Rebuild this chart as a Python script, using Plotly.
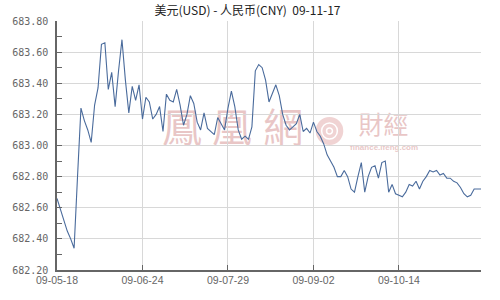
import plotly.graph_objects as go

title_text = "美元(USD) - 人民币(CNY)  09-11-17"

rates = [
    682.66, 682.59, 682.52, 682.45, 682.40, 682.34, 682.80, 683.24, 683.16, 683.10,
    683.02, 683.26, 683.37, 683.65, 683.66, 683.36, 683.47, 683.25, 683.48, 683.68,
    683.42, 683.21, 683.38, 683.29, 683.39, 683.17, 683.31, 683.28, 683.17, 683.20,
    683.25, 683.09, 683.33, 683.29, 683.28, 683.36, 683.26, 683.13, 683.20, 683.32,
    683.27, 683.15, 683.10, 683.21, 683.11, 683.09, 683.07, 683.18, 683.14, 683.10,
    683.24, 683.35, 683.25, 683.10, 683.04, 683.06, 683.04, 683.12, 683.48, 683.52,
    683.50, 683.42, 683.28, 683.33, 683.39, 683.32, 683.20, 683.13, 683.10, 683.12,
    683.14, 683.20, 683.09, 683.11, 683.08, 683.15, 683.09, 683.06, 683.01, 682.94,
    682.90, 682.86, 682.80, 682.80, 682.84, 682.80, 682.72, 682.70, 682.80, 682.89,
    682.70, 682.80, 682.86, 682.87, 682.79, 682.89, 682.90, 682.70, 682.75, 682.69,
    682.68, 682.67, 682.70, 682.75, 682.74, 682.77, 682.72, 682.77, 682.80, 682.84,
    682.83, 682.84, 682.81, 682.82, 682.79, 682.79, 682.77, 682.76, 682.73, 682.69,
    682.67, 682.68, 682.72, 682.72, 682.72,
]

tick_labels = ["09-05-18", "09-06-24", "09-07-29", "09-09-02", "09-10-14"]
tick_index = [0, 25, 50, 75, 100]

watermark_big = ["鳳", "凰", "網"]
watermark_small = "財經"
watermark_url = "finance.ifeng.com"

x = list(range(len(rates)))

fig = go.Figure()
fig.add_trace(go.Scatter(
    x=x, y=rates, mode="lines",
    line=dict(color="#4a6b9c", width=1.1),
    hoverinfo="skip", showlegend=False,
))

# plot area in pixels: left 50, right 481, top 21, bottom 270
L, R, T, B = 50, 481, 21, 270
def px(xp):
    return (xp - L) / (R - L)
def py(yp):
    return (B - yp) / (B - T)

pink = "rgba(226,180,180,0.75)"
shapes = []
centers = [177, 228, 280]
for ch, cx in zip(watermark_big, centers):
    shapes.append(dict(
        type="rect", xref="paper", yref="paper", layer="below",
        x0=px(cx - 25), x1=px(cx + 25), y0=py(152), y1=py(110),
        line=dict(width=0), fillcolor="rgba(0,0,0,0)",
        label=dict(text=ch, textposition="middle center",
                   font=dict(family="Noto Sans CJK TC", size=40, color=pink)),
    ))
shapes.append(dict(
    type="rect", xref="paper", yref="paper", layer="below",
    x0=px(352), x1=px(412), y0=py(142), y1=py(112),
    line=dict(width=0), fillcolor="rgba(0,0,0,0)",
    label=dict(text=watermark_small, textposition="middle center",
               font=dict(family="Noto Sans CJK TC", size=25, color=pink)),
))
shapes.append(dict(
    type="rect", xref="paper", yref="paper", layer="below",
    x0=px(340), x1=px(425), y0=py(151), y1=py(141),
    line=dict(width=0), fillcolor="rgba(0,0,0,0)",
    label=dict(text="<b>" + watermark_url + "</b>", textposition="middle center",
               font=dict(family="Liberation Sans", size=8, color=pink)),
))
# logo swirl approximation
shapes.append(dict(
    type="circle", xref="paper", yref="paper", layer="below",
    x0=px(313), x1=px(341), y0=py(145), y1=py(117),
    line=dict(width=0), fillcolor="rgba(236,200,200,0.8)",
))
shapes.append(dict(
    type="circle", xref="paper", yref="paper", layer="below",
    x0=px(319), x1=px(335), y0=py(139), y1=py(123),
    line=dict(width=1.5, color="white"), fillcolor="rgba(0,0,0,0)",
))
shapes.append(dict(
    type="circle", xref="paper", yref="paper", layer="below",
    x0=px(324), x1=px(330), y0=py(134), y1=py(128),
    line=dict(width=1.5, color="white"), fillcolor="rgba(0,0,0,0)",
))

fig.update_layout(
    width=500, height=300,
    margin=dict(l=L, r=500 - R, t=T, b=300 - B),
    paper_bgcolor="white", plot_bgcolor="white",
    title=dict(text=title_text, x=0.495, xanchor="center", y=1 - 11 / 300, yanchor="middle",
               font=dict(family="Noto Sans CJK SC", size=12, color="#222")),
    shapes=shapes,
    xaxis=dict(
        range=[0, len(rates) - 1],
        tickmode="array", tickvals=tick_index, ticktext=tick_labels,
        showgrid=True, gridcolor="#d8d8d8", gridwidth=1,
        showline=True, linecolor="#666", linewidth=1.5,
        ticks="inside", ticklen=5, tickcolor="#666", tickwidth=1,
        tickfont=dict(family="Liberation Sans", size=10.5, color="#666"),
        zeroline=False, fixedrange=True,
    ),
    yaxis=dict(
        range=[682.2, 683.8],
        tickmode="linear", tick0=682.2, dtick=0.2, tickformat=".2f",
        showgrid=True, gridcolor="#d8d8d8", gridwidth=1,
        showline=True, linecolor="#666", linewidth=1.5,
        ticks="inside", ticklen=5, tickcolor="#666", tickwidth=1,
        minor=dict(dtick=0.1, ticks="inside", ticklen=5, tickcolor="#666", showgrid=False),
        tickfont=dict(family="DejaVu Sans Mono", size=10, color="#666"),
        ticklabelstandoff=5,
        zeroline=False, fixedrange=True,
    ),
)

fig.write_html("out.html", config={"displayModeBar": False})
